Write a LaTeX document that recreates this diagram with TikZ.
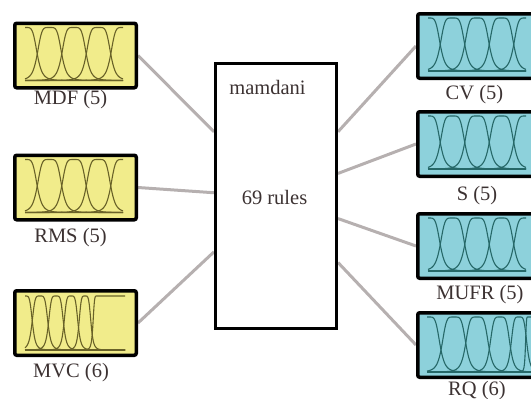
\documentclass[tikz,border=0pt]{standalone}
\usepackage{fontspec}
\setmainfont{Liberation Serif}
\usepackage{tikz}
\usetikzlibrary{positioning,backgrounds}
\definecolor{inyellow}{RGB}{241,236,139}
\definecolor{outteal}{RGB}{141,209,219}
\definecolor{linkgray}{RGB}{182,176,176}
\definecolor{olivemf}{RGB}{105,98,40}
\definecolor{tealmf}{RGB}{38,104,104}
\definecolor{labelgray}{RGB}{60,50,50}

\begin{document}
\begin{tikzpicture}[x=1pt, y=-1pt,
  declare function={tt(\px,\pc,\pw)=min(abs(\px-\pc)/\pw,5);
    gb(\px,\pc,\pw)=1/(1+tt(\px,\pc,\pw)*tt(\px,\pc,\pw)*tt(\px,\pc,\pw)*tt(\px,\pc,\pw)*tt(\px,\pc,\pw));},
  mfbox/.style={draw, line width=3.5pt, rounded corners=2pt, minimum width=121.5pt, minimum height=64.5pt, inner sep=0pt},
  link/.style={draw=linkgray, line width=3pt},
  lbl/.style={font=\fontsize{20.5}{23}\selectfont, text=labelgray, inner sep=0pt},
  mfline/.style={line width=1.1pt}]
\useasboundingbox (0,0) rectangle (531,399);

% rule block
\node[draw, line width=2.8pt, minimum width=121.2pt, minimum height=265.2pt, inner sep=0pt] (fis) at (276,196) {};
\node[lbl, below=18pt of fis.north, xshift=-8.5pt] (fistype) {mamdani};
\node[lbl, xshift=-1.5pt, yshift=-1.5pt] (fisrules) at (fis.center) {69 rules};

% inputs
\node[mfbox, fill=inyellow] (mdf) at (75.5,55.5) {};
\node[mfbox, fill=inyellow] (rms) at (75.5,187.5) {};
\node[mfbox, fill=inyellow] (mvc) at (75.5,323) {};
\node[lbl, below=1pt of mdf, xshift=-5pt] (mdflbl) {MDF (5)};
\node[lbl, below=7pt of rms, xshift=-5pt] (rmslbl) {RMS (5)};
\node[lbl, below=6pt of mvc, xshift=-4.5pt] (mvclbl) {MVC (6)};

% outputs
\node[mfbox, fill=outteal] (cv) at (478.5,46) {};
\node[mfbox, fill=outteal] (svar) at (478.5,144) {};
\node[mfbox, fill=outteal] (mufr) at (478.5,246) {};
\node[mfbox, fill=outteal] (rq) at (478.5,345) {};
\node[lbl, below=5pt of cv, xshift=-4pt] (cvlbl) {CV (5)};
\node[lbl, below=8pt of svar, xshift=-1.5pt] (svarlbl) {S (5)};
\node[lbl, below=5pt of mufr, xshift=1.5pt] (mufrlbl) {MUFR (5)};
\node[lbl, below=2.5pt of rq, xshift=-1.5pt] (rqlbl) {RQ (6)};

% membership functions, five sets
\foreach \b/\col in {mdf/olivemf, rms/olivemf, cv/tealmf, svar/tealmf, mufr/tealmf} {
  \begin{scope}[shift={(\b.north west)}, mfline, draw=\col]
    \foreach \cen in {12,36.5,61,85.5,110}
      \draw plot[domain=12:110, samples=100] (\x,{59-53*gb(\x,\cen,12.25)});
    \draw (12,59) -- (110,59);
  \end{scope}
}

% six sets
\begin{scope}[shift={(mvc.north west)}, mfline, draw=olivemf]
  \foreach \cen/\wid in {12/7.5, 27/8, 43/7.5, 58/7, 72/6}
    \draw plot[domain=12:112, samples=130] (\x,{61-54*gb(\x,\cen,\wid)});
  \draw plot[domain=70:84, samples=40] (\x,{61-54*gb(\x,84,4)}) -- (112,7);
  \draw (12,61) -- (112,61);
\end{scope}
\begin{scope}[shift={(rq.north west)}, mfline, draw=tealmf]
  \foreach \cen/\wid in {12/12, 38/12, 61/11.5, 84/10, 103/8}
    \draw plot[domain=11:125, samples=140] (\x,{61-55*gb(\x,\cen,\wid)});
  \draw plot[domain=103:112, samples=30] (\x,{61-55*gb(\x,112,2.5)}) -- (125,6);
  \draw (11,61) -- (125,61);
\end{scope}

% connectors
\begin{scope}[on background layer]
  \draw[link] (mdf.east) -- (fis.134.5);
  \draw[link] (rms.east) -- (fis.177.2);
  \draw[link] (mvc.east) -- (fis.222.1);
  \draw[link] (fis.46.8) -- (cv.west);
  \draw[link] (fis.20.4) -- (svar.west);
  \draw[link] (fis.340.5) -- (mufr.west);
  \draw[link] (fis.313.2) -- (rq.west);
\end{scope}
\end{tikzpicture}
\end{document}
